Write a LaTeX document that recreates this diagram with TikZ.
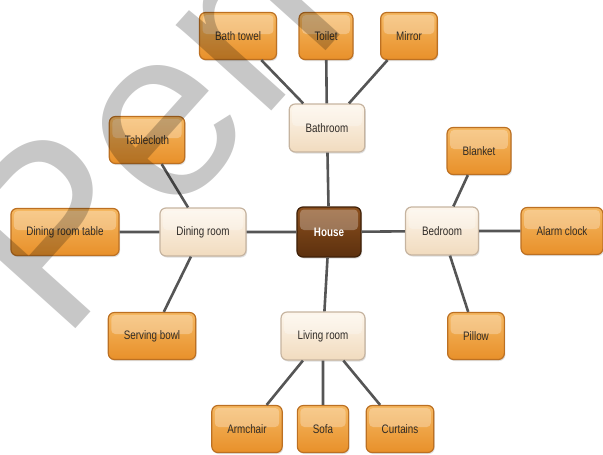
\documentclass[tikz,border=0pt]{standalone}
\usepackage{fontspec}
\setmainfont{Liberation Sans}[FakeStretch=0.8]
\newfontfamily\markfont{Liberation Sans}
\usetikzlibrary{shadows}
\definecolor{leaftop}{RGB}{245,184,98}
\definecolor{leafbot}{RGB}{232,144,42}
\definecolor{leafline}{RGB}{188,112,34}
\definecolor{roomtop}{RGB}{253,246,236}
\definecolor{roombot}{RGB}{241,219,190}
\definecolor{roomline}{RGB}{198,180,160}
\definecolor{housetop}{RGB}{140,80,30}
\definecolor{housebot}{RGB}{92,48,14}
\definecolor{houseline}{RGB}{62,32,8}
\definecolor{linkgray}{RGB}{85,85,85}
\definecolor{textgray}{RGB}{48,44,40}

\begin{document}
\begin{tikzpicture}[x=1pt, y=-1pt,
    box/.style={rounded corners=6pt, line width=1.2pt, text=textgray,
        font=\fontsize{12.3}{14}\selectfont,
        drop shadow={opacity=0.25, shadow xshift=1pt, shadow yshift=-1.5pt},
        path picture={\fill[white, opacity=0.28, rounded corners=4pt]
            ([xshift=3pt, yshift=-2.5pt]path picture bounding box.north west)
            rectangle ([xshift=-3pt, yshift=2pt]path picture bounding box.east);}},
    leaf/.style={box, draw=leafline, top color=leaftop, bottom color=leafbot,
        inner xsep=15.5pt, minimum height=47pt},
    room/.style={box, draw=roomline, top color=roomtop, bottom color=roombot,
        inner xsep=16.5pt, minimum height=48pt},
    hub/.style={box, draw=houseline, top color=housetop, bottom color=housebot,
        text=white, font=\fontsize{12.3}{14}\selectfont\bfseries,
        inner xsep=17pt, minimum height=50pt},
    link/.style={linkgray, line width=2.6pt}]
    \useasboundingbox (0,0) rectangle (603,455);
    \node[hub] (h) at (329, 232) {House};
    \node[room] (hb) at (327, 128) {Bathroom};
    \node[room] (hd) at (203, 232) {Dining room};
    \node[room] (he) at (442, 231) {Bedroom};
    \node[room] (hl) at (323, 336) {Living room};
    \node[leaf] (hbt) at (238, 36) {Bath towel};
    \node[leaf] (hbo) at (326, 36) {Toilet};
    \node[leaf] (hbm) at (409, 36) {Mirror};
    \node[leaf] (hdc) at (147, 140) {Tablecloth};
    \node[leaf] (hdt) at (65, 232) {Dining room table};
    \node[leaf] (hds) at (152, 336) {Serving bowl};
    \node[leaf] (heb) at (479, 151) {Blanket};
    \node[leaf] (hea) at (562, 231) {Alarm clock};
    \node[leaf] (hep) at (476, 336) {Pillow};
    \node[leaf] (hla) at (247, 429) {Armchair};
    \node[leaf] (hls) at (323, 429) {Sofa};
    \node[leaf] (hlc) at (400, 429) {Curtains};
    \draw[link]
    (h) -- (hb) (h) -- (hd) (h) -- (he) (h) -- (hl)
    (hb) -- (hbt) (hb) -- (hbo) (hb) -- (hbm)
    (hd) -- (hdc) (hd) -- (hdt) (hd) -- (hds)
    (he) -- (heb) (he) -- (hea) (he) -- (hep)
    (hl) -- (hla) (hl) -- (hls) (hl) -- (hlc);
    % watermark over the chart
    \begin{scope}
        \clip (0,0) rectangle (603,455);
        \node[rotate=48, anchor=base west, inner sep=0pt, text=black, text opacity=0.22,
            font=\markfont\fontsize{243}{243}\selectfont] (mark) at (62, 344) {Pen};
    \end{scope}
\end{tikzpicture}
\end{document}
